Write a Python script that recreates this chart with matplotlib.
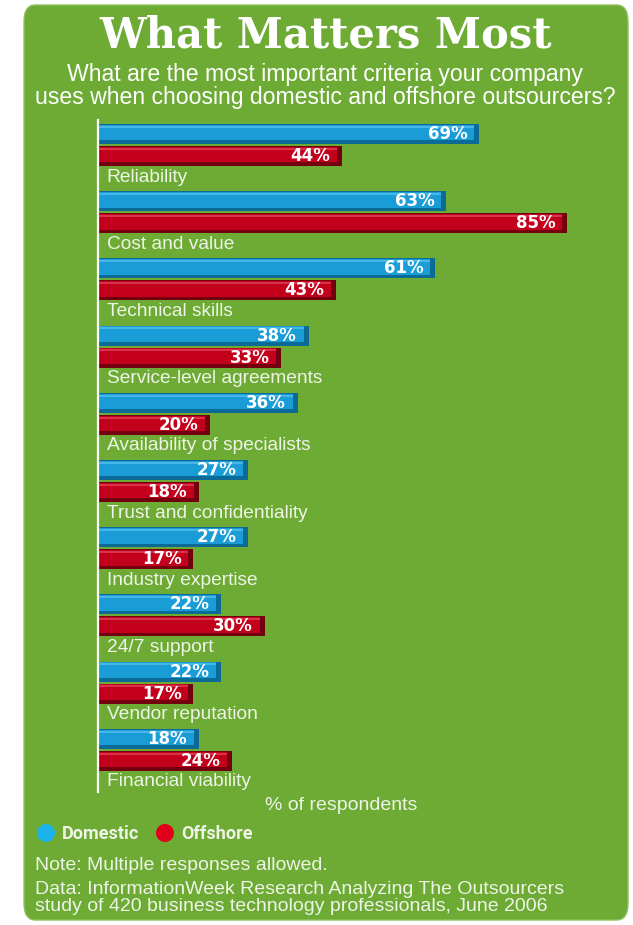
import numpy as np
import matplotlib
matplotlib.use("Agg")
import matplotlib.pyplot as plt
from matplotlib.patches import FancyBboxPatch, Ellipse

# data
criteria = ["Reliability", "Cost and value", "Technical skills",
            "Service-level agreements", "Availability of specialists",
            "Trust and confidentiality", "Industry expertise", "24/7 support",
            "Vendor reputation", "Financial viability"]
domestic = [69, 63, 61, 38, 36, 27, 27, 22, 22, 18]
offshore = [44, 85, 43, 33, 20, 18, 17, 30, 17, 24]

W, H = 633, 925
GREEN = "#6dab35"
BLUE, BLUE_DARK, BLUE_LIGHT = "#1a9dd6", "#0b6a96", "#48b6e6"
RED, RED_DARK, RED_LIGHT = "#c3001c", "#72000e", "#d8334a"
TXT = "#eef4e6"


def fx(x):
    return x / W


def fy(y):
    return 1 - y / H


fig = plt.figure(figsize=(W / 100, H / 100), dpi=100)
fig.patch.set_facecolor("white")

# green rounded panel
panel = FancyBboxPatch((fx(24), fy(920)), fx(604), 915 / H,
                       boxstyle="round,pad=0,rounding_size=0.018",
                       transform=fig.transFigure, facecolor=GREEN,
                       edgecolor="#8fc25e", linewidth=1.0, zorder=-10)
fig.patches.append(panel)

# titles
fig.text(fx(326), fy(36), "What Matters Most", ha="center", va="center",
         color="white", fontsize=30, fontweight="bold", family="DejaVu Serif")
fig.text(fx(325), fy(86),
         "What are the most important criteria your company\n"
         "uses when choosing domestic and offshore outsourcers?",
         ha="center", va="center", color="white", fontsize=16.6,
         family="Liberation Sans", linespacing=0.95)

# bar axes: 5.5 px per percent, 67.2 px per group
pitch = 67.2
top, bottom = 120, 792
ax = fig.add_axes([fx(98), fy(bottom), 522.5 / W, (bottom - top) / H])
ax.set_xlim(0, 95)
ax.set_ylim((bottom - 134) / pitch, -(134 - top) / pitch)
ax.patch.set_alpha(0)
for s in ["top", "right", "bottom"]:
    ax.spines[s].set_visible(False)
ax.spines["left"].set_color("white")
ax.spines["left"].set_linewidth(1.6)
ax.set_xticks([])
ax.set_yticks([])

idx = np.arange(len(criteria))
y_dom = idx
y_off = idx + 22 / pitch
y_lab = idx + 43 / pitch
bh = 20 / pitch

# 3D look: dark shadow body, main face, thin highlight along the top
for ys, vals, c, cd, cl in [(y_dom, domestic, BLUE, BLUE_DARK, BLUE_LIGHT),
                            (y_off, offshore, RED, RED_DARK, RED_LIGHT)]:
    v = np.array(vals)
    ax.barh(ys, v + 0.3, height=bh, color=cd, zorder=1)
    ax.barh(ys - 0.02, v - 0.6, height=bh * 0.78, color=c, zorder=2)
    ax.barh(ys - bh * 0.36, v - 0.6, height=bh * 0.1, color=cl, zorder=2)

for i in idx:
    ax.text(domestic[i] - 1.8, y_dom[i], f"{domestic[i]}%", ha="right", va="center",
            color="white", fontsize=12, fontweight="bold", zorder=3)
    ax.text(offshore[i] - 1.8, y_off[i], f"{offshore[i]}%", ha="right", va="center",
            color="white", fontsize=12, fontweight="bold", zorder=3)
    ax.text(1.6, y_lab[i], criteria[i], ha="left", va="center", color=TXT,
            fontsize=13.8, family="Liberation Sans", zorder=3)

fig.text(fx(341), fy(805), "% of respondents", ha="center", va="center",
         color=TXT, fontsize=14, family="Liberation Sans")

# legend
for cx, col, name in [(46, "#1cb2ea", "Domestic"), (165, "#e2001a", "Offshore")]:
    fig.patches.append(Ellipse((fx(cx), fy(833)), 18 / W, 18 / H,
                               transform=fig.transFigure, facecolor=col,
                               edgecolor="none", zorder=5))
    fig.text(fx(cx + 16), fy(834), name, ha="left", va="center", color=TXT,
             fontsize=13, fontweight="bold", family="Roboto")

fig.text(fx(35), fy(866), "Note: Multiple responses allowed.", ha="left",
         va="center", color=TXT, fontsize=14, family="Liberation Sans")
fig.text(fx(35), fy(898),
         "Data: InformationWeek Research Analyzing The Outsourcers\n"
         "study of 420 business technology professionals, June 2006",
         ha="left", va="center", color=TXT, fontsize=14, family="Liberation Sans",
         linespacing=0.95)

fig.savefig("out.png", dpi=100)
